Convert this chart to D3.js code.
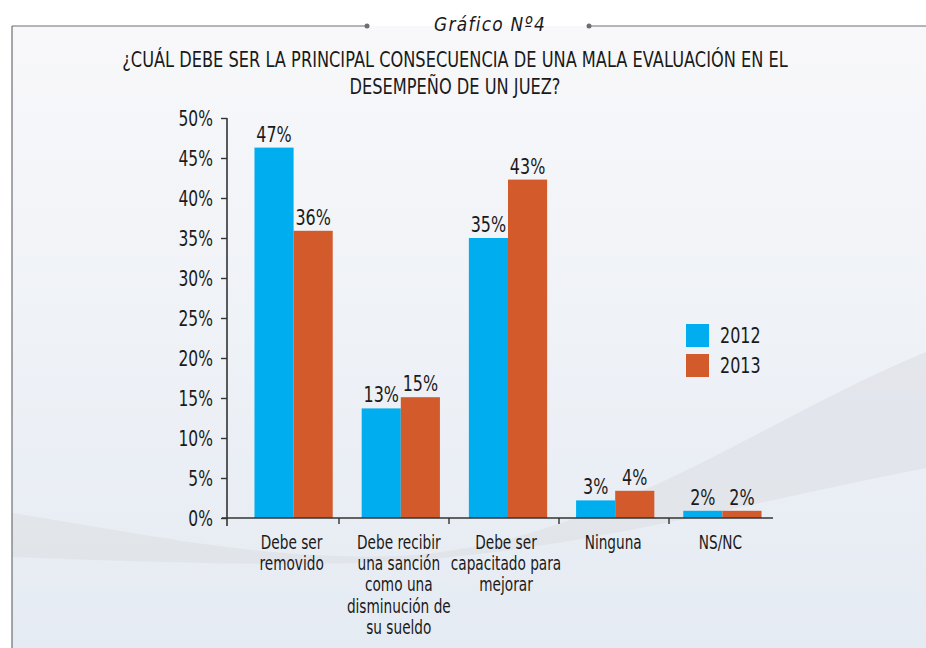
<!DOCTYPE html>
<html lang="es">
<head>
    <meta charset="UTF-8">
    <title>Gráfico Nº4</title>
    <script src="https://d3js.org/d3.v7.min.js"></script>
    <style>
        body { margin: 0; background: #fff; }
        svg text { font-family: "DejaVu Sans", sans-serif; fill: #1a1a1a; }
    </style>
</head>
<body>
    <svg id="chart"></svg>
    <script>
        // categories and values
        var categories = ["Debe ser removido", "Debe recibir una sanción", "Debe ser capacitado", "Ninguna", "NS/NC"];
        var categoryLines = [
            ["Debe ser", "removido"],
            ["Debe recibir", "una sanción", "como una", "disminución de", "su sueldo"],
            ["Debe ser", "capacitado para", "mejorar"],
            ["Ninguna"],
            ["NS/NC"]
        ];
        var series = ["2012", "2013"];
        var values2012 = [46.3, 13.7, 35.0, 2.2, 0.9];
        var values2013 = [35.9, 15.1, 42.3, 3.4, 0.9];
        var labels2012 = ["47%", "13%", "35%", "3%", "2%"];
        var labels2013 = ["36%", "15%", "43%", "4%", "2%"];
        var yTicks = [0, 5, 10, 15, 20, 25, 30, 35, 40, 45, 50];

        var colors = { "2012": "#00aeef", "2013": "#d35a2b" };

        var W = 926, H = 648;
        var svg = d3.select("#chart").attr("width", W).attr("height", H);

        // condensed look: put text at (x, y) and squeeze it horizontally
        function addText(parent, x, y, size, f, str) {
            return parent.append("text")
                .attr("transform", "translate(" + x + "," + y + ") scale(" + f + ",1)")
                .attr("font-size", size)
                .text(str);
        }

        // background and frame
        var defs = svg.append("defs");
        var grad = defs.append("linearGradient").attr("id", "bg")
            .attr("x1", 0).attr("y1", 0).attr("x2", 0).attr("y2", 1);
        grad.append("stop").attr("offset", "0%").attr("stop-color", "#f8f8fa");
        grad.append("stop").attr("offset", "100%").attr("stop-color", "#e5ebf3");

        svg.append("rect").attr("x", 12).attr("y", 26).attr("width", W - 12).attr("height", H - 26)
            .attr("fill", "url(#bg)");

        // soft grey swoosh
        svg.append("path")
            .attr("d", "M12,513 C150,535 260,560 400,556 C600,545 760,420 926,352 L926,468 C760,500 600,545 420,560 C300,568 150,562 12,557 Z")
            .attr("fill", "#dfe2e7").attr("opacity", 0.75);

        var frame = svg.append("g").attr("stroke", "#6d6e71").attr("stroke-width", 1.2).attr("fill", "none");
        frame.append("line").attr("x1", 12).attr("y1", 26).attr("x2", 367).attr("y2", 26);
        frame.append("line").attr("x1", 589).attr("y1", 26).attr("x2", W).attr("y2", 26);
        frame.append("line").attr("x1", 12).attr("y1", 26).attr("x2", 12).attr("y2", H);
        svg.append("circle").attr("cx", 367).attr("cy", 26).attr("r", 2.5).attr("fill", "#6d6e71");
        svg.append("circle").attr("cx", 589).attr("cy", 26).attr("r", 2.5).attr("fill", "#6d6e71");

        addText(svg, 490, 31, 20, 0.85, "Gráfico Nº4")
            .attr("text-anchor", "middle").attr("font-style", "italic").attr("letter-spacing", 1.5);

        // title
        var t1 = addText(svg, 455, 67, 21, 1, "¿CUÁL DEBE SER LA PRINCIPAL CONSECUENCIA DE UNA MALA EVALUACIÓN EN EL")
            .attr("text-anchor", "middle");
        var titleFactor = 666 / t1.node().getComputedTextLength();
        t1.attr("transform", "translate(455,67) scale(" + titleFactor + ",1)");
        addText(svg, 455, 94, 21, titleFactor, "DESEMPEÑO DE UN JUEZ?").attr("text-anchor", "middle");

        // scales
        var y = d3.scaleLinear().domain([0, 50]).range([518, 118]);
        var x = d3.scaleBand().domain(categories).range([240, 776]).paddingInner(0.27).paddingOuter(0.135);
        var xs = d3.scaleBand().domain(series).range([0, x.bandwidth()]);
        var xTick = d3.scaleBand().domain(categories).range([229, 779]);

        var rows = categories.map(function(c, i) {
            return { cat: c, vals: [
                { s: "2012", v: values2012[i], label: labels2012[i] },
                { s: "2013", v: values2013[i], label: labels2013[i] }
            ] };
        });

        // bars
        var groups = svg.selectAll(".grp").data(rows).enter().append("g")
            .attr("class", "grp")
            .attr("transform", function(d) { return "translate(" + x(d.cat) + ",0)"; });

        groups.selectAll("rect").data(function(d) { return d.vals; }).enter().append("rect")
            .attr("x", function(d) { return xs(d.s); })
            .attr("y", function(d) { return y(d.v); })
            .attr("width", xs.bandwidth())
            .attr("height", function(d) { return y(0) - y(d.v); })
            .attr("fill", function(d) { return colors[d.s]; });

        groups.selectAll(".val").data(function(d) { return d.vals; }).enter().append("text")
            .attr("class", "val")
            .attr("transform", function(d) {
                return "translate(" + (xs(d.s) + xs.bandwidth() / 2) + "," + (y(d.v) - 6) + ") scale(0.76,1)";
            })
            .attr("text-anchor", "middle")
            .attr("font-size", 21)
            .text(function(d) { return d.label; });

        // y axis
        var yAxis = svg.append("g").attr("transform", "translate(227,0)")
            .call(d3.axisLeft(y).tickValues(yTicks).tickSize(6).tickSizeOuter(0).tickFormat(function(d) { return d + "%"; }));
        yAxis.select(".domain").attr("stroke", "#333").attr("stroke-width", 1.6)
            .attr("d", "M0," + y(50) + "V" + (y(0) + 8));
        yAxis.selectAll(".tick line").attr("stroke", "#333").attr("stroke-width", 1.4);
        yAxis.selectAll(".tick text").attr("font-size", 21).attr("x", 0).attr("dy", "0.36em")
            .attr("transform", "translate(-14,0) scale(0.74,1)")
            .style("font-family", "'DejaVu Sans', sans-serif").attr("fill", "#1a1a1a");

        // x axis
        var xAxis = svg.append("g");
        xAxis.append("line").attr("x1", 222).attr("x2", 773).attr("y1", y(0)).attr("y2", y(0))
            .attr("stroke", "#333").attr("stroke-width", 1.6);
        xAxis.selectAll(".xt").data(categories.slice(1)).enter().append("line")
            .attr("x1", function(d) { return xTick(d); }).attr("x2", function(d) { return xTick(d); })
            .attr("y1", y(0)).attr("y2", y(0) + 6)
            .attr("stroke", "#333").attr("stroke-width", 1.4);

        // category labels
        categories.forEach(function(c, i) {
            categoryLines[i].forEach(function(line, j) {
                addText(svg, x(c) + x.bandwidth() / 2 - 2, 549 + j * 21.2, 19, 0.72, line)
                    .attr("text-anchor", "middle");
            });
        });

        // legend
        var legend = svg.append("g").attr("transform", "translate(686,324)");
        series.forEach(function(s, i) {
            legend.append("rect").attr("x", 0).attr("y", i * 30).attr("width", 23).attr("height", 23).attr("fill", colors[s]);
            addText(legend, 34, i * 30 + 19, 21, 0.76, s);
        });
    </script>
</body>
</html>
